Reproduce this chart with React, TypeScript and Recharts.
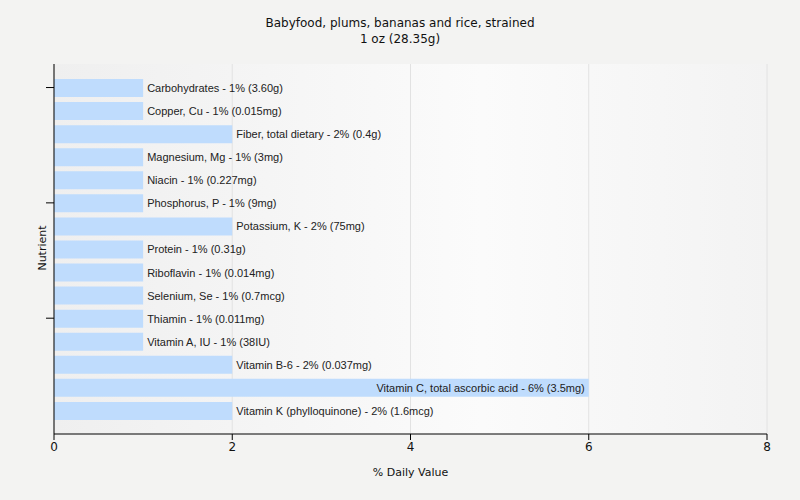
import { BarChart, Bar, XAxis, YAxis, CartesianGrid, LabelList } from 'recharts';

const nutrients = [
  'Carbohydrates',
  'Copper, Cu',
  'Fiber, total dietary',
  'Magnesium, Mg',
  'Niacin',
  'Phosphorus, P',
  'Potassium, K',
  'Protein',
  'Riboflavin',
  'Selenium, Se',
  'Thiamin',
  'Vitamin A, IU',
  'Vitamin B-6',
  'Vitamin C, total ascorbic acid',
  'Vitamin K (phylloquinone)',
];

const dailyValues = [1, 1, 2, 1, 1, 1, 2, 1, 1, 1, 1, 1, 2, 6, 2];

const amounts = [
  '3.60g', '0.015mg', '0.4g', '3mg', '0.227mg', '9mg', '75mg', '0.31g',
  '0.014mg', '0.7mcg', '0.011mg', '38IU', '0.037mg', '3.5mg', '1.6mcg',
];

const xTicks = [0, 2, 4, 6, 8];
const yTickNames = ['Carbohydrates', 'Phosphorus, P', 'Thiamin'];

const data = nutrients.map((name, i) => ({
  name,
  value: dailyValues[i],
  label: `${name} - ${dailyValues[i]}% (${amounts[i]})`,
}));

const BarLabel = (props: any) => {
  const { x, y, width, height, value } = props;
  const inside = x + width > 500;
  return (
    <text
      x={inside ? x + width - 4 : x + width + 4}
      y={y + height / 2}
      dy={4}
      textAnchor={inside ? 'end' : 'start'}
      fontSize={11}
      fontFamily="'Liberation Sans', Arial, sans-serif"
      fill="#222"
    >
      {value}
    </text>
  );
};

// y labels are hidden, only the tick marks stay
const EmptyTick = () => <g />;

export default function App() {
  return (
    <div
      style={{
        position: 'absolute',
        left: 0,
        top: 0,
        width: 800,
        height: 500,
        background: '#f3f3f2',
        fontFamily: "'DejaVu Sans', Tahoma, sans-serif",
      }}
    >
      <div
        style={{
          position: 'absolute',
          top: 15,
          width: 800,
          textAlign: 'center',
          fontSize: 12,
          lineHeight: '16px',
          color: '#111',
        }}
      >
        Babyfood, plums, bananas and rice, strained
        <br />
        1 oz (28.35g)
      </div>
      <div
        style={{
          position: 'absolute',
          left: 42,
          top: 248,
          fontSize: 11,
          color: '#111',
          transform: 'translate(-50%, -50%) rotate(-90deg)',
          whiteSpace: 'nowrap',
        }}
      >
        Nutrient
      </div>
      <div
        style={{
          position: 'absolute',
          top: 466,
          left: 54,
          width: 713,
          textAlign: 'center',
          fontSize: 11,
          color: '#111',
        }}
      >
        % Daily Value
      </div>
      <BarChart
        width={800}
        height={500}
        data={data}
        layout="vertical"
        margin={{ top: 64, right: 33, bottom: 36, left: 46 }}
        style={{ position: 'absolute', left: 0, top: 0 }}
      >
        <defs>
          <linearGradient id="plotBg" x1="0" y1="0" x2="1" y2="0">
            <stop offset="0%" stopColor="#efefef" />
            <stop offset="60%" stopColor="#fbfbfb" />
            <stop offset="100%" stopColor="#f3f3f3" />
          </linearGradient>
        </defs>
        <CartesianGrid
          horizontal={false}
          stroke="#e2e2e2"
          fill="url(#plotBg)"
        />
        <XAxis
          type="number"
          domain={[0, 8]}
          ticks={xTicks}
          axisLine={{ stroke: '#000' }}
          tickLine={{ stroke: '#000' }}
          tickSize={6}
          height={30}
          tick={{ fill: '#111', fontSize: 12 }}
        />
        <YAxis
          type="category"
          dataKey="name"
          ticks={yTickNames}
          width={8}
          tick={EmptyTick}
          tickSize={8}
          tickLine={{ stroke: '#000' }}
          axisLine={{ stroke: '#000' }}
          padding={{ top: 12, bottom: 12 }}
        />
        <Bar dataKey="value" fill="#bfdcfd" barSize={18} isAnimationActive={false}>
          <LabelList dataKey="label" content={BarLabel} />
        </Bar>
      </BarChart>
    </div>
  );
}
